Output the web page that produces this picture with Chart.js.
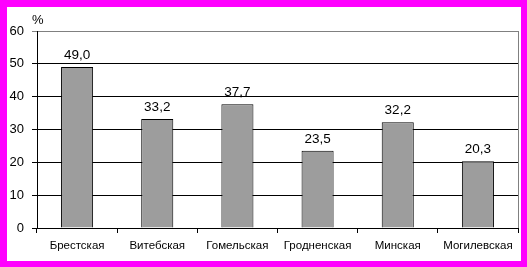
<!DOCTYPE html>
<html>
<head>
<meta charset="utf-8">
<script src="https://cdn.jsdelivr.net/npm/chart.js@4/dist/chart.umd.min.js"></script>
<style>
    body { margin: 0; background: #ff00ff; }
    #wrap { width: 527px; height: 267px; position: relative; }
</style>
</head>
<body>
<div id="wrap"><canvas id="regions_chart" width="527" height="267"></canvas></div>
<script>
const regions = ["Брестская", "Витебская", "Гомельская", "Гродненская", "Минская", "Могилевская"]
const percents = [49.0, 33.2, 37.7, 23.5, 32.2, 20.3]
const yTicks = [0, 10, 20, 30, 40, 50, 60]

const FONT = "'Liberation Sans', Arial, sans-serif"

// white panel, grey right edge of plot, value labels and the % sign
const decor = {
    id: 'decor',
    beforeDraw(chart) {
        let c = chart.ctx
        c.save()
        c.fillStyle = '#ffffff'
        c.fillRect(7, 7, 514, 254)
        c.restore()
    },
    afterDatasetsDraw(chart) {
        let c = chart.ctx
        let area = chart.chartArea
        c.save()
        c.strokeStyle = '#808080'
        c.lineWidth = 1
        c.beginPath()
        c.moveTo(Math.round(area.right) + 0.5, area.top)
        c.lineTo(Math.round(area.right) + 0.5, area.bottom)
        c.stroke()

        c.fillStyle = '#000'
        c.font = '13.5px ' + FONT
        c.textAlign = 'center'
        c.textBaseline = 'alphabetic'
        let meta = chart.getDatasetMeta(0)
        meta.data.forEach(function (bar, i) {
            c.fillText(percents[i].toFixed(1).replace('.', ','), bar.x, bar.y - 8)
        })
        c.font = '13px ' + FONT
        c.textAlign = 'left'
        c.fillText('%', 32, 24)
        c.restore()
    }
}

let ctx = document.getElementById('regions_chart')
let regionsChart = new Chart(ctx, {
    type: 'bar',
    data: {
        labels: regions,
        datasets: [{
            data: percents,
            backgroundColor: '#9d9d9d',
            borderColor: '#000',
            borderWidth: 1,
            barPercentage: 0.4,
            categoryPercentage: 1
        }]
    },
    options: {
        responsive: false,
        animation: false,
        layout: { padding: { left: 7, right: 9, top: 31, bottom: 7 } },
        plugins: { legend: { display: false }, tooltip: { enabled: false } },
        scales: {
            x: {
                grid: { drawOnChartArea: false, offset: true, tickLength: 5, color: '#000' },
                border: { color: '#000' },
                ticks: { color: '#000', font: { family: FONT, size: 11.5 }, padding: 6, maxRotation: 0, autoSkip: false },
                afterFit(scale) { scale.height = 32 }
            },
            y: {
                min: yTicks[0],
                max: yTicks[yTicks.length - 1],
                afterBuildTicks(scale) { scale.ticks = yTicks.map(v => ({ value: v })) },
                grid: {
                    tickLength: 5,
                    color: c => c.tick && c.tick.value === 60 ? '#808080' : '#000'
                },
                border: { color: '#000' },
                ticks: { color: '#000', font: { family: FONT, size: 13 }, padding: 8 },
                afterFit(scale) { scale.width = 30 }
            }
        }
    },
    plugins: [decor]
})
</script>
</body>
</html>
